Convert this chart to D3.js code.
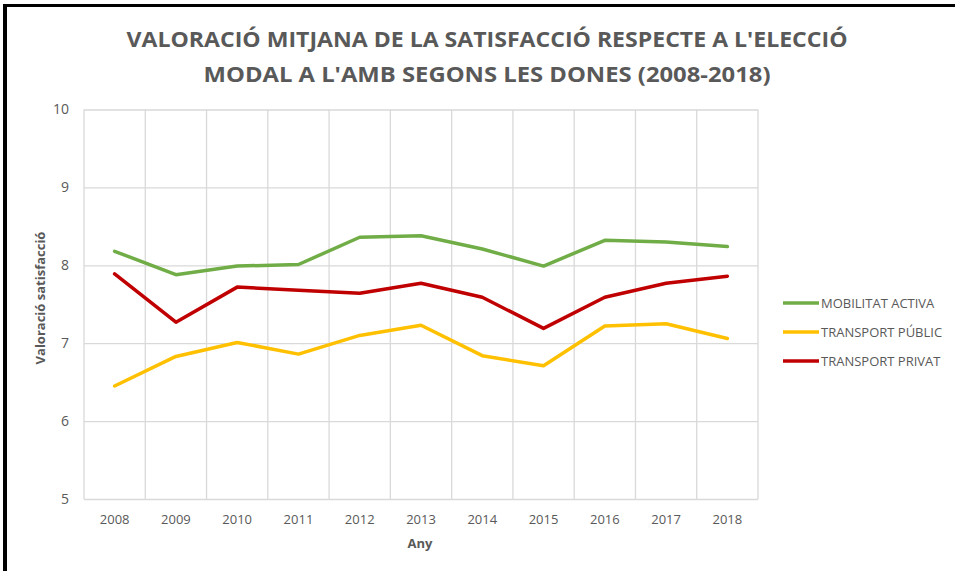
<!DOCTYPE html>
<html>
<head>
<meta charset="utf-8">
<script src="https://cdn.jsdelivr.net/npm/d3@7/dist/d3.min.js"></script>
<style>
    html, body { margin: 0; padding: 0; background: #fff; }
    svg { display: block; }
    text { font-family: "Open Sans", sans-serif; fill: #595959; }
</style>
</head>
<body>
<svg id="chart" width="955" height="571"></svg>
<script>
var years = ['2008', '2009', '2010', '2011', '2012', '2013', '2014', '2015', '2016', '2017', '2018'];
var mobilitatActiva = [8.18, 7.88, 7.99, 8.01, 8.36, 8.38, 8.21, 7.99, 8.32, 8.30, 8.24];
var transportPublic = [6.45, 6.83, 7.01, 6.86, 7.10, 7.23, 6.84, 6.71, 7.22, 7.25, 7.06];
var transportPrivat = [7.89, 7.27, 7.72, 7.68, 7.64, 7.77, 7.59, 7.19, 7.59, 7.77, 7.86];
var yTicks = [5, 6, 7, 8, 9, 10];
var titleLines = ["VALORACIÓ MITJANA DE LA SATISFACCIÓ RESPECTE A L'ELECCIÓ",
                  "MODAL A L'AMB SEGONS LES DONES (2008-2018)"];

var series = [
    {name: 'MOBILITAT ACTIVA', values: mobilitatActiva, color: '#70ad47'},
    {name: 'TRANSPORT PÚBLIC', values: transportPublic, color: '#ffc000'},
    {name: 'TRANSPORT PRIVAT', values: transportPrivat, color: '#c00000'}
];

var svg = d3.select('#chart'),
    plotLeft = 84, plotRight = 758, plotTop = 109.5, plotBottom = 499;

var x = d3.scaleBand().domain(years).range([plotLeft, plotRight]);
var y = d3.scaleLinear().domain([5, 10]).range([plotBottom, plotTop]);

// frame (only top and left edges are visible)
svg.append('rect').attr('x', 3).attr('y', 4).attr('width', 4).attr('height', 567).attr('fill', '#000');
svg.append('rect').attr('x', 3).attr('y', 4).attr('width', 952).attr('height', 3).attr('fill', '#000');

// title
svg.selectAll('.title').data(titleLines).enter()
    .append('text')
        .attr('class', 'title')
        .attr('x', 487)
        .attr('y', function(d, i) { return 47 + i * 35; })
        .attr('text-anchor', 'middle')
        .attr('textLength', function(d, i) { return i === 0 ? 721 : 567; })
        .attr('lengthAdjust', 'spacingAndGlyphs')
        .style('font-weight', 'bold')
        .style('font-size', '22px')
        .text(function(d) { return d; });

// horizontal grid
svg.append('g')
    .attr('transform', 'translate(' + plotLeft + ',0)')
    .call(d3.axisLeft(y).tickValues(yTicks).tickSize(-(plotRight - plotLeft)).tickFormat(''))
    .call(function(g) {
        g.select('.domain').remove();
        g.selectAll('line').attr('stroke', '#d9d9d9').attr('stroke-width', 1.3);
    });

// vertical grid at band edges
var edges = years.map(function(d) { return x(d); }).concat([plotRight]);
svg.append('g').selectAll('line').data(edges).enter()
    .append('line')
        .attr('x1', function(d) { return d; })
        .attr('x2', function(d) { return d; })
        .attr('y1', plotTop)
        .attr('y2', plotBottom)
        .attr('stroke', '#d9d9d9')
        .attr('stroke-width', 1.3);

// y tick labels
svg.append('g')
    .attr('transform', 'translate(' + plotLeft + ',0)')
    .call(d3.axisLeft(y).tickValues(yTicks).tickFormat(d3.format('d')).tickSize(0).tickPadding(15))
    .call(function(g) {
        g.select('.domain').remove();
        g.selectAll('text').style('font-size', '14px').attr('fill', '#595959');
    });

// x tick labels
svg.append('g')
    .attr('transform', 'translate(0,' + plotBottom + ')')
    .call(d3.axisBottom(x).tickSize(0).tickPadding(16))
    .call(function(g) {
        g.select('.domain').remove();
        g.selectAll('text').style('font-size', '13px').attr('fill', '#595959');
    });

// axis titles
svg.append('text')
    .attr('x', 420)
    .attr('y', 548)
    .attr('text-anchor', 'middle')
    .style('font-weight', 'bold')
    .style('font-size', '13px')
    .text('Any');

svg.append('text')
    .attr('transform', 'translate(45,298) rotate(-90)')
    .attr('text-anchor', 'middle')
    .style('font-weight', 'bold')
    .style('font-size', '13px')
    .text('Valoració satisfacció');

// lines
var line = d3.line()
    .x(function(d, i) { return x(years[i]) + x.bandwidth() / 2; })
    .y(function(d) { return y(d); });

svg.append('g').selectAll('path').data(series).enter()
    .append('path')
        .attr('d', function(d) { return line(d.values); })
        .attr('fill', 'none')
        .attr('stroke', function(d) { return d.color; })
        .attr('stroke-width', 3.5)
        .attr('stroke-linejoin', 'round')
        .attr('stroke-linecap', 'round');

// legend
var legend = svg.append('g').selectAll('g').data(series).enter()
    .append('g')
        .attr('transform', function(d, i) { return 'translate(783,' + [303, 332, 361][i] + ')'; });

legend.append('line')
    .attr('x1', 0).attr('x2', 36)
    .attr('stroke', function(d) { return d.color; })
    .attr('stroke-width', 3.5);

legend.append('text')
    .attr('x', 38)
    .attr('dy', '0.35em')
    .style('font-size', '13px')
    .text(function(d) { return d.name; });
</script>
</body>
</html>
